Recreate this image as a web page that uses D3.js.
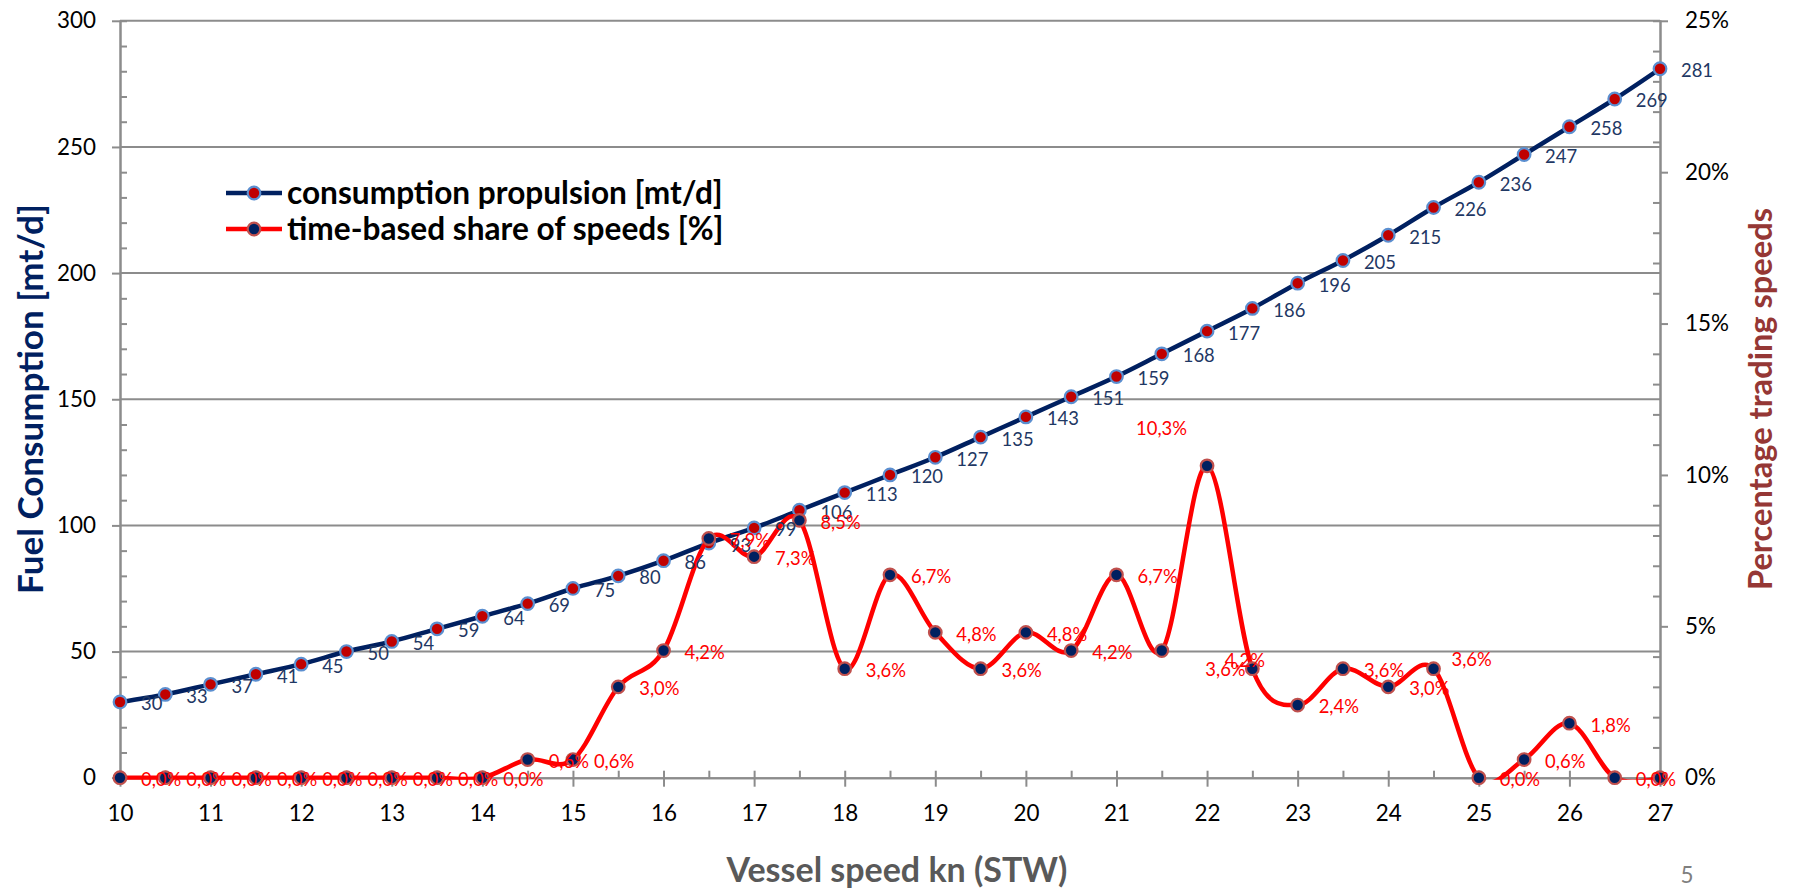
<!DOCTYPE html>
<html><head><meta charset="utf-8">
<script src="https://cdn.jsdelivr.net/npm/d3@7"></script>
<style>html,body{margin:0;padding:0;background:#fff;} svg{display:block;font-family:Lato,'Noto Sans',sans-serif;}</style>
</head><body><svg id="chart" width="1793" height="888"></svg>
<script>
// ---------- data ----------
const speeds = [10,10.5,11,11.5,12,12.5,13,13.5,14,14.5,15,15.5,16,16.5,17,17.5,18,18.5,19,19.5,20,20.5,21,21.5,22,22.5,23,23.5,24,24.5,25,25.5,26,26.5,27];
const consumption = [30,33,37,41,45,50,54,59,64,69,75,80,86,93,99,106,113,120,127,135,143,151,159,168,177,186,196,205,215,226,236,247,258,269,281];
const shareOfSpeeds = [0,0,0,0,0,0,0,0,0,0.6,0.6,3.0,4.2,7.9,7.3,8.5,3.6,6.7,4.8,3.6,4.8,4.2,6.7,4.2,10.3,3.6,2.4,3.6,3.0,3.6,0,0.6,1.8,0,0];
const xTickValues = [10,11,12,13,14,15,16,17,18,19,20,21,22,23,24,25,26,27];
const leftTickValues = [0,50,100,150,200,250,300];
const rightTickValues = [0,5,10,15,20,25];
const seriesNames = ["consumption propulsion [mt/d]","time-based share of speeds [%]"];
const axisTitles = {x:"Vessel speed kn (STW)", left:"Fuel Consumption [mt/d]", right:"Percentage trading speeds"};
const pageNumber = "5";

// ---------- layout ----------
const W = 1793, H = 888;
const P = {left:120, right:1660, top:20.8, bottom:777.7};
const C = {navy:"#002060", navyText:"#1F3864", red:"#FF0000", markerRed:"#C00000", markerBlueEdge:"#5B8FD0",
           markerRedEdge:"#C0504D", grid:"#8C8C8C", rightTitle:"#953735", xTitle:"#595959", page:"#7F7F7F"};
// manually moved labels (dx, dy from the point), default is to the right
const pctLabelNudge = {21.5:[63,10], 22:[-71,-37], 22.5:[-47,1], 24.5:[18,-9]};
const pctLabelHidden = [27];

const svg = d3.select("#chart");
svg.append("rect").attr("width",W).attr("height",H).attr("fill","#fff");

function fitFont(text, weight, target){
  const t = svg.append("text").attr("font-size",100).attr("font-weight",weight).text(text);
  const w = t.node().getComputedTextLength(); t.remove();
  return 100*target/w;
}
const fsTick = fitFont("200","normal",39);
const fsLabel = fitFont("10,3%","normal",51);
const fsLegend = fitFont(seriesNames[0],"bold",436);
const fsXTitle = fitFont(axisTitles.x,"bold",341);
const fsLTitle = fitFont(axisTitles.left,"bold",390);
const fsRTitle = fitFont(axisTitles.right,"bold",382);

const x = d3.scaleLinear().domain([10,27]).range([P.left,P.right]);
const yL = d3.scaleLinear().domain([0,300]).range([P.bottom,P.top]);
const yR = d3.scaleLinear().domain([0,25]).range([P.bottom,P.top]);

// gridlines
svg.append("g").selectAll("line").data(leftTickValues.filter(d=>d>0)).join("line")
  .attr("x1",P.left).attr("x2",P.right).attr("y1",d=>yL(d)).attr("y2",d=>yL(d))
  .attr("stroke",C.grid).attr("stroke-width",2);

function styleAxis(g){
  g.select(".domain").attr("stroke",C.grid).attr("stroke-width",2);
  g.selectAll(".tick line").attr("stroke",C.grid).attr("stroke-width",2);
  g.selectAll("text").attr("fill","#000").attr("font-size",fsTick).attr("font-family","Lato,'Noto Sans',sans-serif");
}
// left axis
const leftMinor = d3.range(0,301,10).filter(d=>d%50!==0);
svg.append("g").attr("transform",`translate(${P.left},0)`)
  .call(d3.axisLeft(yL).tickValues(leftMinor).tickSize(-7).tickFormat("")).call(styleAxis);
svg.append("g").attr("transform",`translate(${P.left},0)`)
  .call(d3.axisLeft(yL).tickValues(leftTickValues).tickSizeInner(8).tickSizeOuter(0).tickPadding(16)).call(styleAxis);
// right axis
const rightMinor = d3.range(0,26,1).filter(d=>d%5!==0);
svg.append("g").attr("transform",`translate(${P.right},0)`)
  .call(d3.axisRight(yR).tickValues(rightMinor).tickSize(-7).tickFormat("")).call(styleAxis);
svg.append("g").attr("transform",`translate(${P.right},0)`)
  .call(d3.axisRight(yR).tickValues(rightTickValues).tickSizeInner(8).tickSizeOuter(0).tickPadding(17).tickFormat(d=>d+"%")).call(styleAxis);
// bottom axis
svg.append("g").attr("transform",`translate(0,${P.bottom})`)
  .call(d3.axisBottom(x).tickValues(speeds.filter(d=>d%1!==0)).tickSize(-7).tickFormat("")).call(styleAxis);
const xg = svg.append("g").attr("transform",`translate(0,${P.bottom})`)
  .call(d3.axisBottom(x).tickValues(xTickValues).tickSizeOuter(0).tickFormat(d3.format("d"))).call(styleAxis);
xg.selectAll(".tick line").attr("y1",-7).attr("y2",9);
xg.selectAll(".tick text").attr("y",35).attr("dy","0.35em");

// clip
svg.append("clipPath").attr("id","plotclip").append("rect")
  .attr("x",P.left).attr("y",P.top-4).attr("width",P.right-P.left).attr("height",P.bottom-P.top+6);

const curve = d3.curveCatmullRom.alpha(0);
const fuelPts = speeds.map((s,i)=>({s, v:consumption[i]}));
const pctPts = speeds.map((s,i)=>({s, v:shareOfSpeeds[i]}));

svg.append("path").datum(fuelPts).attr("clip-path","url(#plotclip)")
  .attr("d",d3.line().x(d=>x(d.s)).y(d=>yL(d.v)).curve(curve))
  .attr("fill","none").attr("stroke",C.navy).attr("stroke-width",4.5);
svg.append("g").selectAll("circle").data(fuelPts).join("circle")
  .attr("cx",d=>x(d.s)).attr("cy",d=>yL(d.v)).attr("r",6.3)
  .attr("fill",C.markerRed).attr("stroke",C.markerBlueEdge).attr("stroke-width",2.2);

svg.append("path").datum(pctPts).attr("clip-path","url(#plotclip)")
  .attr("d",d3.line().x(d=>x(d.s)).y(d=>yR(d.v)).curve(curve))
  .attr("fill","none").attr("stroke",C.red).attr("stroke-width",4.5);
svg.append("g").selectAll("circle").data(pctPts).join("circle")
  .attr("cx",d=>x(d.s)).attr("cy",d=>yR(d.v)).attr("r",6.3)
  .attr("fill",C.navy).attr("stroke",C.markerRedEdge).attr("stroke-width",2.2);

// data labels
svg.append("g").selectAll("text").data(fuelPts).join("text")
  .attr("x",d=>x(d.s)+21).attr("y",d=>yL(d.v)+2).attr("dy","0.35em")
  .attr("font-size",fsLabel).attr("fill",C.navyText).text(d=>d.v);
const pctFmt = d=>d3.format(".1f")(d).replace(".",",")+"%";
svg.append("g").selectAll("text").data(pctPts.filter(d=>!pctLabelHidden.includes(d.s))).join("text")
  .attr("x",d=>x(d.s)+(pctLabelNudge[d.s]?pctLabelNudge[d.s][0]:21))
  .attr("y",d=>yR(d.v)+(pctLabelNudge[d.s]?pctLabelNudge[d.s][1]:2)).attr("dy","0.35em")
  .attr("font-size",fsLabel).attr("fill",C.red).text(d=>pctFmt(d.v));

// legend
const legend = svg.append("g");
const legRows = [{name:seriesNames[0], line:C.navy, fill:C.markerRed, edge:C.markerBlueEdge, y:193},
                 {name:seriesNames[1], line:C.red, fill:C.navy, edge:C.markerRedEdge, y:229}];
legRows.forEach(r=>{
  legend.append("line").attr("x1",226).attr("x2",282).attr("y1",r.y).attr("y2",r.y).attr("stroke",r.line).attr("stroke-width",4.5);
  legend.append("circle").attr("cx",254).attr("cy",r.y).attr("r",6.3).attr("fill",r.fill).attr("stroke",r.edge).attr("stroke-width",2.2);
  legend.append("text").attr("x",287).attr("y",r.y).attr("dy","0.35em").attr("font-size",fsLegend)
    .attr("font-weight","bold").attr("fill","#000").text(r.name);
});

// axis titles
svg.append("text").attr("transform","translate(31,399) rotate(-90)").attr("text-anchor","middle").attr("dy","0.35em")
  .attr("font-size",fsLTitle).attr("font-weight","bold").attr("fill",C.navy).text(axisTitles.left);
svg.append("text").attr("transform","translate(1761,399) rotate(-90)").attr("text-anchor","middle").attr("dy","0.35em")
  .attr("font-size",fsRTitle).attr("font-weight","bold").attr("fill",C.rightTitle).text(axisTitles.right);
svg.append("text").attr("x",897).attr("y",870).attr("text-anchor","middle").attr("dy","0.35em")
  .attr("font-size",fsXTitle).attr("font-weight","bold").attr("fill",C.xTitle).text(axisTitles.x);
svg.append("text").attr("x",1687).attr("y",875).attr("text-anchor","middle").attr("dy","0.35em")
  .attr("font-size",fsTick).attr("fill",C.page).text(pageNumber);
</script></body></html>
